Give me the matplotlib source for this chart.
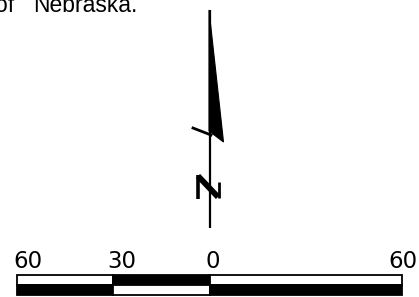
import matplotlib
matplotlib.use("Agg")
import matplotlib.pyplot as plt
from matplotlib.patches import Polygon, Rectangle
from matplotlib.transforms import offset_copy

# scale bar (miles)
escala_rotulos = ["60", "30", "0", "60"]
escala_valores = [-60, -30, 0, 60]
# segments: (start, end, top colour, bottom colour)
segmentos = [(-60, -30, "white", "black"),
             (-30, 0, "black", "white"),
             (0, 60, "white", "black")]

W, H = 419, 297
fig = plt.figure(figsize=(W / 100, H / 100), dpi=100)

# main canvas in pixel coordinates
ax = fig.add_axes([0, 0, 1, 1])
ax.set_xlim(0, W)
ax.set_ylim(H, 0)
ax.axis("off")

# caption remnant at top (cut by the scan)
ax.text(-5, 12.5, "of", fontsize=16.5, family="Liberation Sans", va="baseline", ha="left")
ax.text(33, 12.5, "Nebraska.", fontsize=16.5, family="Liberation Sans", va="baseline", ha="left")

# north arrow
ax.plot([209.5, 209.5], [10, 228], color="black", lw=1.6, solid_capstyle="butt")
ax.add_patch(Polygon([(209, 10), (223.5, 142), (209, 131)], closed=True,
                     facecolor="black", edgecolor="black", lw=0.8))
ax.plot([193, 211], [128, 135], color="black", lw=2.0)
# the "N"
ax.plot([197.5, 197.5], [175, 199], color="black", lw=2.6, solid_capstyle="butt")
ax.plot([198, 218], [176, 197], color="black", lw=4.2, solid_capstyle="butt")
ax.plot([218.5, 218.5], [182, 198], color="black", lw=2.0, solid_capstyle="butt")

# scale bar axes in miles
sx0, sx1 = 17, 402
top, bot = 275, 295
axs = fig.add_axes([sx0 / W, 1 - bot / H, (sx1 - sx0) / W, (bot - top) / H])
axs.set_xlim(escala_valores[0], escala_valores[-1])
axs.set_ylim(0, 2)
axs.axis("off")
for a, b, c_top, c_bot in segmentos:
    axs.add_patch(Rectangle((a, 1), b - a, 1, facecolor=c_top, edgecolor="black",
                            lw=1.3, clip_on=False))
    axs.add_patch(Rectangle((a, 0), b - a, 1, facecolor=c_bot, edgecolor="black",
                            lw=1.3, clip_on=False))
# label shifts in pixels (labels sit a bit right of their ticks in the scan)
desloc = [10.5, 9, 3, 1]
for v, r, dx in zip(escala_valores, escala_rotulos, desloc):
    tr = offset_copy(axs.transData, fig=fig, x=dx, y=0, units="dots")
    axs.text(v, 2.7, r, fontsize=16.5, family="DejaVu Sans", ha="center",
             va="baseline", transform=tr, clip_on=False)

fig.savefig("out.png", dpi=100)
